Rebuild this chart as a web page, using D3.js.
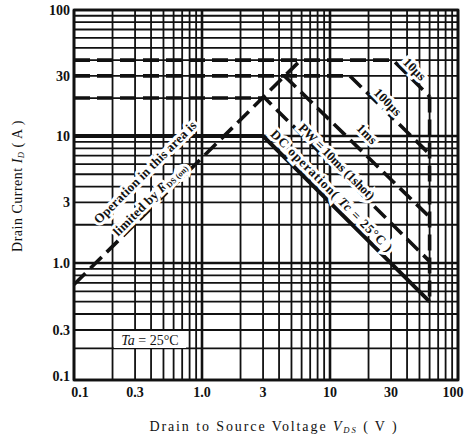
<!DOCTYPE html>
<html>
<head>
<meta charset="utf-8">
<script src="https://cdn.jsdelivr.net/npm/d3@7"></script>
<style>
body { margin: 0; background: #fff; }
svg text { font-family: "Liberation Serif", "DejaVu Serif", serif; fill: #111; }
</style>
</head>
<body>
<script>
// tick labels
const xTicks = [0.1, 0.3, 1, 3, 10, 30, 100];
const xTickLabels = ["0.1", "0.3", "1.0", "3", "10", "30", "100"];
const yTicks = [0.1, 0.3, 1, 3, 10, 30, 100];
const yTickLabels = ["0.1", "0.3", "1.0", "3", "10", "30", "100"];

// safe operating area boundaries, [V_DS (V), I_D (A)]
const rdsOnLimit = [[0.1, 0.68], [5.9, 40]];
const pulse10us = [[0.1, 40], [31, 40], [60, 20.6]];
const pulse100us = [[0.1, 30], [14.3, 30], [60, 7.2]];
const pulse1ms = [[4.4, 30], [60, 2.3]];
const pulse10ms = [[0.1, 20], [3.1, 20], [60, 1.03]];
const dcOperation = [[0.1, 10], [3, 10], [60, 0.5]];
const breakdownLimit = [[60, 20.6], [60, 0.5]];

const width = 465;
const height = 440;

// scanned sheet: decades are not quite even on the y axis
const x = d3.scaleLog().domain([0.1, 100]).range([74, 458]);
const y = d3.scaleLog().domain([0.1, 0.3, 1, 10, 100]).range([380, 330, 263, 136, 10]);

const isDecade = d => Math.abs(Math.log10(d) - Math.round(Math.log10(d))) < 1e-6;

const svg = d3.select("body").append("svg")
    .attr("width", width)
    .attr("height", height);

// grid
const grid = svg.append("g").attr("stroke", "#111");
grid.selectAll(".vx")
    .data(x.ticks())
    .join("line")
    .attr("x1", d => x(d)).attr("x2", d => x(d))
    .attr("y1", y(100)).attr("y2", y(0.1))
    .attr("stroke-width", d => isDecade(d) ? 2.6 : 1.8);
grid.selectAll(".hy")
    .data(y.ticks())
    .join("line")
    .attr("y1", d => y(d)).attr("y2", d => y(d))
    .attr("x1", x(0.1)).attr("x2", x(100))
    .attr("stroke-width", d => isDecade(d) ? 2.6 : 1.8);

svg.append("rect")
    .attr("x", x(0.1)).attr("y", y(100))
    .attr("width", x(100) - x(0.1))
    .attr("height", y(0.1) - y(100))
    .attr("fill", "none")
    .attr("stroke", "#111")
    .attr("stroke-width", 2.6);

// boundary lines
const line = d3.line().x(d => x(d[0])).y(d => y(d[1]));
const dashed = [rdsOnLimit, pulse10us, pulse100us, pulse1ms, pulse10ms, breakdownLimit];

svg.append("g").selectAll("path")
    .data(dashed)
    .join("path")
    .attr("d", line)
    .attr("fill", "none")
    .attr("stroke", "#111")
    .attr("stroke-width", 3.6)
    .attr("stroke-dasharray", "16,7");

svg.append("path")
    .datum(dcOperation)
    .attr("d", line)
    .attr("fill", "none")
    .attr("stroke", "#111")
    .attr("stroke-width", 4);

// text helper: parts are [text, style] where style has i (italic) / s (subscript)
function rich(sel, parts, size) {
    parts.forEach(([t, st = ""]) => {
        const ts = sel.append("tspan").text(t);
        if (st.includes("i")) ts.attr("font-style", "italic");
        if (st.includes("s")) ts.attr("font-size", size * 0.62).attr("baseline-shift", "-25%");
    });
}

// annotations along the lines
const notes = [
    { v: 0.359, i: 5.2, rot: -45, ls: 0.2, parts: [["Operation in this area is"]] },
    { v: 0.39, i: 3.2, rot: -45, ls: 0.2, parts: [["limited by "], ["R", "i"], ["DS (on)", "s"]] },
    { v: 46, i: 34, rot: 45, ls: 0.2, parts: [["10µs"]] },
    { v: 28.4, i: 18.6, rot: 45, ls: 0.2, parts: [["100µs"]] },
    { v: 19.5, i: 10.4, rot: 45, ls: 0.2, parts: [["1ms"]] },
    { v: 11.3, i: 6.3, rot: 45, ls: -0.2, parts: [["PW = 10ms (1shot)"]] },
    { v: 10.4, i: 3.7, rot: 45, ls: 0.9, parts: [["DC operation( "], ["Tc", "i"], [" = 25°C )"]] }
];

notes.forEach(n => {
    const t = svg.append("text")
        .attr("transform", `translate(${x(n.v)},${y(n.i)}) rotate(${n.rot})`)
        .attr("text-anchor", "middle")
        .attr("dy", "0.35em")
        .attr("font-size", 13)
        .attr("font-weight", "bold")
        .attr("letter-spacing", n.ls)
        .attr("stroke", "#fff")
        .attr("stroke-width", 6)
        .attr("paint-order", "stroke");
    rich(t, n.parts, 13);
});

// Ta box
svg.append("rect")
    .attr("x", 114).attr("y", 331)
    .attr("width", 72).attr("height", 17)
    .attr("fill", "#fff");
const ta = svg.append("text")
    .attr("x", 150).attr("y", 340)
    .attr("dy", "0.35em")
    .attr("text-anchor", "middle")
    .attr("font-size", 14);
rich(ta, [["Ta", "i"], [" = 25°C"]], 14);

// tick labels
svg.append("g").selectAll("text")
    .data(yTicks)
    .join("text")
    .attr("x", 70)
    .attr("y", d => y(d))
    .attr("dy", (d, i) => i === 0 ? "0.1em" : "0.35em")
    .attr("text-anchor", "end")
    .attr("font-size", 14)
    .attr("font-weight", "bold")
    .text((d, i) => yTickLabels[i]);

svg.append("g").selectAll("text")
    .data(xTicks)
    .join("text")
    .attr("x", (d, i) => x(d) + (i === 0 ? 6 : i === xTicks.length - 1 ? -5 : 0))
    .attr("y", 397)
    .attr("text-anchor", "middle")
    .attr("font-size", 14)
    .attr("font-weight", "bold")
    .text((d, i) => xTickLabels[i]);

// axis titles
const xt = svg.append("text")
    .attr("x", 274).attr("y", 431)
    .attr("text-anchor", "middle")
    .attr("font-size", 14)
    .attr("letter-spacing", 1.9);
rich(xt, [["Drain to Source Voltage "], ["V", "i"], ["DS", "is"], [" ( V )"]], 14);

const yt = svg.append("text")
    .attr("transform", "translate(22,186) rotate(-90)")
    .attr("text-anchor", "middle")
    .attr("font-size", 14)
    .attr("letter-spacing", 0.5);
rich(yt, [["Drain Current "], ["I", "i"], ["D", "is"], [" ( A )"]], 14);
</script>
</body>
</html>
